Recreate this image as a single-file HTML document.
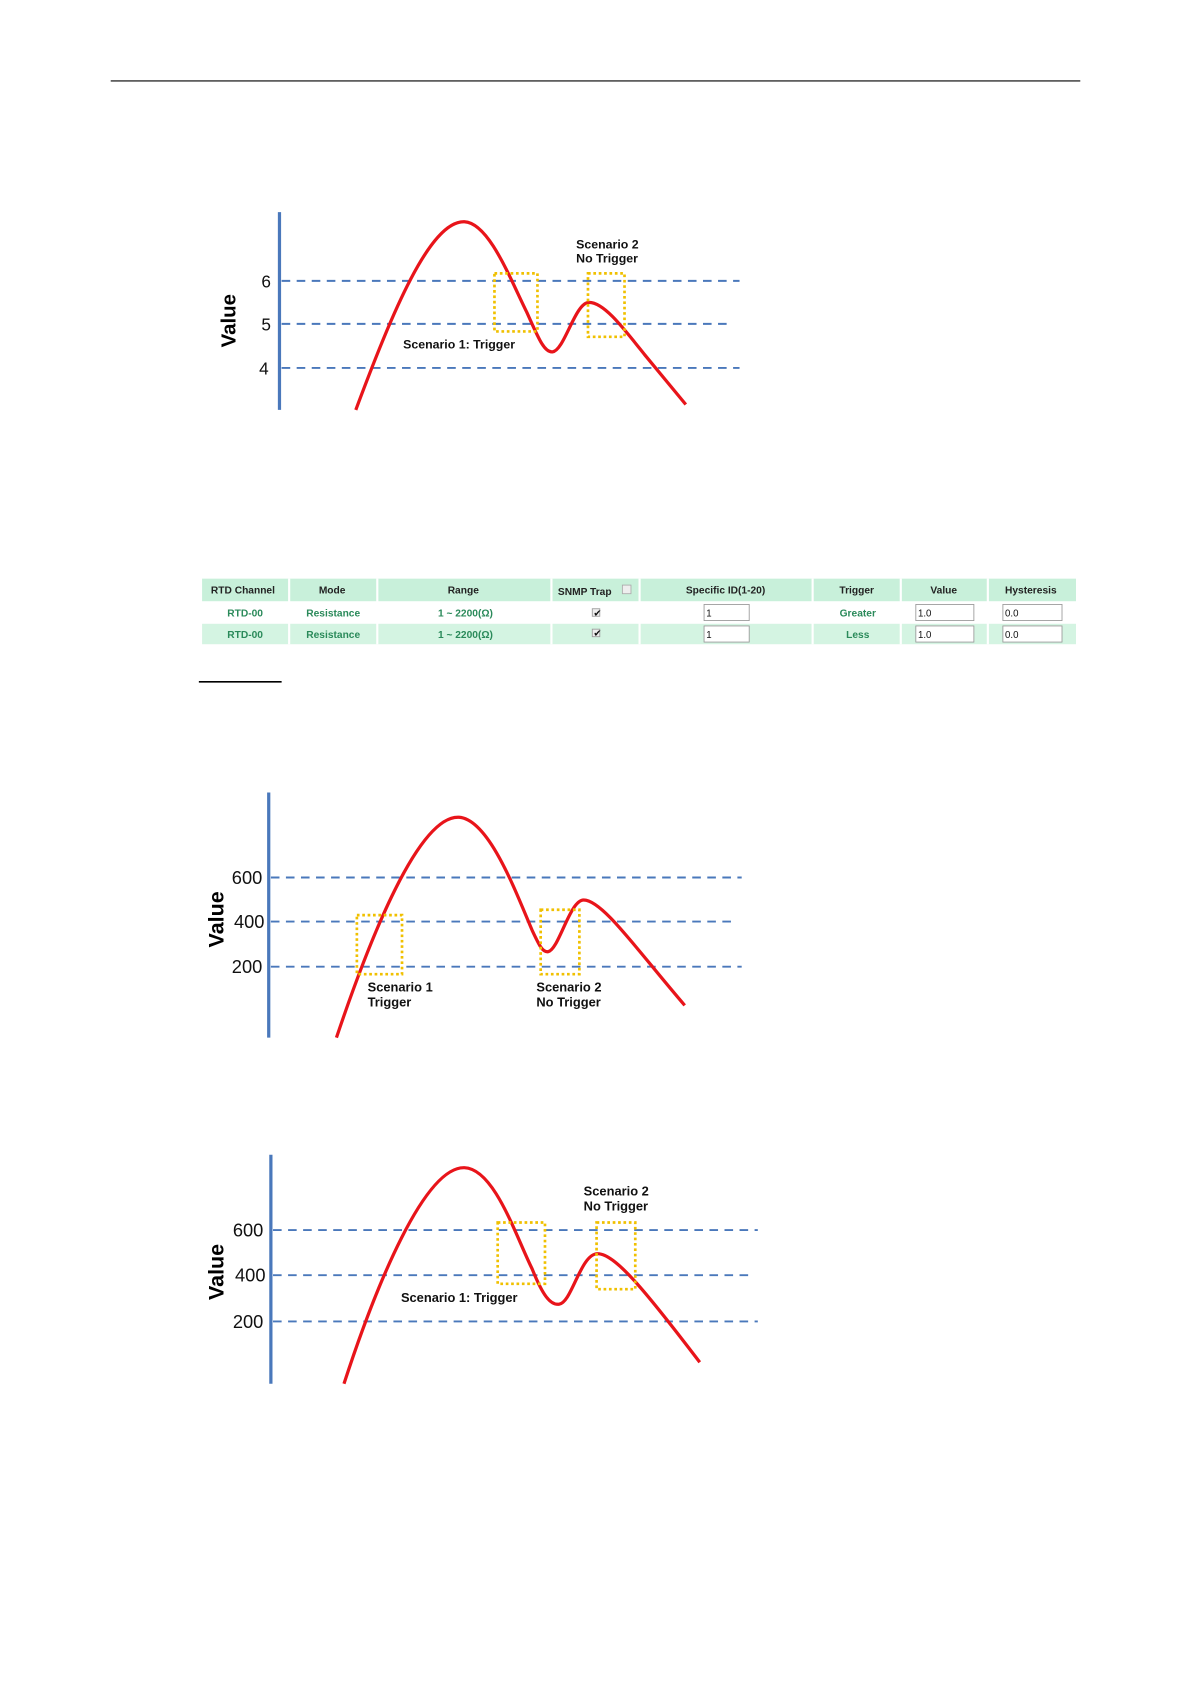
<!DOCTYPE html>
<html><head><meta charset="utf-8"><style>
html,body{margin:0;padding:0;background:#fff}
svg{display:block}
text{font-family:"Liberation Sans","DejaVu Sans",sans-serif}
</style></head><body>
<svg width="1191" height="1684" viewBox="0 0 1108 1566" xmlns="http://www.w3.org/2000/svg">
<line x1="103" y1="75" x2="1005" y2="75" stroke="#000" stroke-width="1"/>

<!-- Chart 1 -->
<g>
<line x1="260" y1="197" x2="260" y2="381" stroke="#4a78bb" stroke-width="3"/>
<g stroke="#4a78bb" stroke-width="1.8" stroke-dasharray="8,6">
<line x1="262" y1="261" x2="688" y2="261"/>
<line x1="262" y1="301" x2="682" y2="301"/>
<line x1="262" y1="342" x2="688" y2="342"/>
</g>
<g font-size="16" text-anchor="end" fill="#111">
<text x="252" y="267">6</text><text x="252" y="307">5</text><text x="250" y="348">4</text>
</g>
<text x="0" y="0" font-size="19" font-weight="bold" transform="translate(219,298) rotate(-90)" text-anchor="middle">Value</text>
<path d="M331,381 C365,290 400,205 432,206 C455,207 475,260 490,290 C500,312 506,328 514,327 C525,326 535,281 548,281 C562,281 580,305 600,330 L638,376" fill="none" stroke="#e8141a" stroke-width="3"/>
<g fill="none" stroke="#f0c000" stroke-width="2.5" stroke-dasharray="2.5,2.5">
<rect x="460" y="254" width="40" height="54"/><rect x="547" y="254" width="34" height="59"/>
</g>
<g font-size="11.5" font-weight="bold" fill="#111">
<text x="536" y="231">Scenario 2</text><text x="536" y="244">No Trigger</text>
<text x="375" y="324">Scenario 1: Trigger</text>
</g>
</g>

<!-- Table -->
<g font-size="9.5" font-weight="bold" text-anchor="middle">
<rect x="188" y="538" width="813" height="21" fill="#c8f0da"/>
<rect x="188" y="560" width="813" height="19" fill="#ffffff"/>
<rect x="188" y="580" width="813" height="19" fill="#d4f4e2"/>
<g stroke="#fff" stroke-width="2">
<line x1="269" y1="538" x2="269" y2="599"/><line x1="351" y1="538" x2="351" y2="599"/>
<line x1="513" y1="538" x2="513" y2="599"/><line x1="595" y1="538" x2="595" y2="599"/>
<line x1="756" y1="538" x2="756" y2="599"/><line x1="838" y1="538" x2="838" y2="599"/>
<line x1="919" y1="538" x2="919" y2="599"/>
</g>
<g fill="#222">
<text x="226" y="552">RTD Channel</text><text x="309" y="552">Mode</text><text x="431" y="552">Range</text>
<text x="544" y="553">SNMP Trap</text><text x="675" y="552">Specific ID(1-20)</text><text x="797" y="552">Trigger</text>
<text x="878" y="552">Value</text><text x="959" y="552">Hysteresis</text>
</g>
<rect x="579" y="544" width="8" height="8" fill="#eee" stroke="#aaa" stroke-width="0.8"/>
<g fill="#2a8a5a">
<text x="228" y="573">RTD-00</text><text x="310" y="573">Resistance</text><text x="433" y="573">1 ~ 2200(Ω)</text><text x="798" y="573">Greater</text>
<text x="228" y="593">RTD-00</text><text x="310" y="593">Resistance</text><text x="433" y="593">1 ~ 2200(Ω)</text><text x="798" y="593">Less</text>
</g>
<g fill="#fff" stroke="#999" stroke-width="0.8">
<rect x="551" y="566" width="7" height="7" fill="#eee"/><rect x="551" y="585" width="7" height="7" fill="#eee"/>
<rect x="655" y="562" width="42" height="15"/><rect x="852" y="562" width="54" height="15"/><rect x="933" y="562" width="55" height="15"/>
<rect x="655" y="582" width="42" height="15"/><rect x="852" y="582" width="54" height="15"/><rect x="933" y="582" width="55" height="15"/>
</g>
<g fill="#111" font-weight="normal" text-anchor="start" font-size="9">
<text x="552" y="573">✔</text><text x="552" y="592">✔</text>
<text x="657" y="573">1</text><text x="854" y="573">1.0</text><text x="935" y="573">0.0</text>
<text x="657" y="593">1</text><text x="854" y="593">1.0</text><text x="935" y="593">0.0</text>
</g>
</g>
<line x1="185" y1="634" x2="262" y2="634" stroke="#000" stroke-width="1.5"/>

<!-- Chart 2 -->
<g>
<line x1="250" y1="737" x2="250" y2="965" stroke="#4a78bb" stroke-width="3"/>
<g stroke="#4a78bb" stroke-width="1.8" stroke-dasharray="8,6">
<line x1="252" y1="816" x2="690" y2="816"/><line x1="252" y1="857" x2="684" y2="857"/><line x1="252" y1="899" x2="690" y2="899"/>
</g>
<g font-size="17" text-anchor="end" fill="#111">
<text x="244" y="822">600</text><text x="246" y="863">400</text><text x="244" y="905">200</text>
</g>
<text font-size="20" font-weight="bold" transform="translate(208,855) rotate(-90)" text-anchor="middle">Value</text>
<path d="M313,965 C345,870 390,758 427,760 C455,762 480,830 495,865 C502,880 505,886 510,885 C520,883 530,837 543,837 C560,837 590,880 637,935" fill="none" stroke="#e8141a" stroke-width="3"/>
<g fill="none" stroke="#f0c000" stroke-width="2.5" stroke-dasharray="2.5,2.5">
<rect x="332" y="851" width="42" height="55"/><rect x="503" y="846" width="36" height="60"/>
</g>
<g font-size="12" font-weight="bold" fill="#111">
<text x="342" y="922">Scenario 1</text><text x="342" y="936">Trigger</text>
<text x="499" y="922">Scenario 2</text><text x="499" y="936">No Trigger</text>
</g>
</g>

<!-- Chart 3 -->
<g>
<line x1="252" y1="1074" x2="252" y2="1287" stroke="#4a78bb" stroke-width="3"/>
<g stroke="#4a78bb" stroke-width="1.8" stroke-dasharray="8,6">
<line x1="254" y1="1144" x2="705" y2="1144"/><line x1="254" y1="1186" x2="698" y2="1186"/><line x1="254" y1="1229" x2="705" y2="1229"/>
</g>
<g font-size="17" text-anchor="end" fill="#111">
<text x="245" y="1150">600</text><text x="247" y="1192">400</text><text x="245" y="1235">200</text>
</g>
<text font-size="20" font-weight="bold" transform="translate(208,1183) rotate(-90)" text-anchor="middle">Value</text>
<path d="M320,1287 C350,1195 395,1085 432,1086 C460,1087 480,1150 495,1180 C505,1205 512,1214 520,1213 C532,1212 540,1166 556,1166 C572,1166 600,1200 651,1267" fill="none" stroke="#e8141a" stroke-width="3"/>
<g fill="none" stroke="#f0c000" stroke-width="2.5" stroke-dasharray="2.5,2.5">
<rect x="463" y="1137" width="44" height="57"/><rect x="555" y="1137" width="36" height="62"/>
</g>
<g font-size="12" font-weight="bold" fill="#111">
<text x="543" y="1112">Scenario 2</text><text x="543" y="1126">No Trigger</text>
<text x="373" y="1211">Scenario 1: Trigger</text>
</g>
</g>
</svg>
</body></html>
